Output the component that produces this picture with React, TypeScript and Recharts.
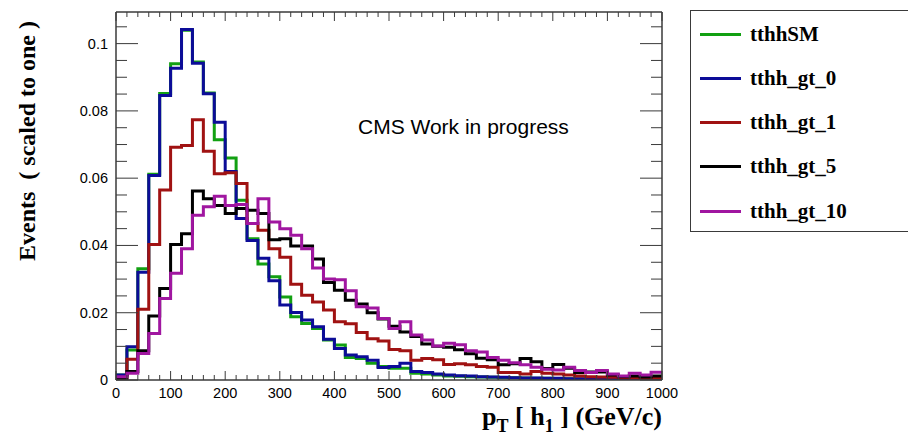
import React from 'react';
import { LineChart, Line, XAxis, YAxis, Label } from 'recharts';

// bin low edges (GeV), 20 GeV bins
const binLow = [
  0, 20, 40, 60, 80, 100, 120, 140, 160, 180,
  200, 220, 240, 260, 280, 300, 320, 340, 360, 380,
  400, 420, 440, 460, 480, 500, 520, 540, 560, 580,
  600, 620, 640, 660, 680, 700, 720, 740, 760, 780,
  800, 820, 840, 860, 880, 900, 920, 940, 960, 980,
];
const xMax = 1000;

const tthhSM = [
  0.0015, 0.0089, 0.0331, 0.0612, 0.0852, 0.094, 0.104, 0.0945, 0.0853, 0.0714,
  0.066, 0.0534, 0.042, 0.0345, 0.0307, 0.0247, 0.0188, 0.0168, 0.0153, 0.0119,
  0.0104, 0.0067, 0.0064, 0.005, 0.004, 0.0035, 0.0035, 0.002, 0.0018, 0.0015,
  0.0012, 0.0011, 0.001, 0.0009, 0.0008, 0.0007, 0.0007, 0.0006, 0.0005, 0.0005,
  0.0004, 0.0004, 0.0003, 0.0003, 0.0003, 0.0002, 0.0002, 0.0002, 0.0001, 0.0001,
];
const tthh_gt_0 = [
  0.0015, 0.0099, 0.032, 0.0608, 0.0846, 0.0927, 0.1042, 0.0942, 0.0851, 0.0766,
  0.062, 0.048, 0.0415, 0.0362, 0.0295, 0.0223, 0.0201, 0.0178, 0.0158, 0.0121,
  0.0094, 0.0074, 0.0069, 0.0059, 0.0037, 0.004, 0.005, 0.0025, 0.0022, 0.0018,
  0.0015, 0.0013, 0.0012, 0.001, 0.0009, 0.0008, 0.0007, 0.0006, 0.0006, 0.0005,
  0.0005, 0.0004, 0.0004, 0.0003, 0.0003, 0.0002, 0.0002, 0.0002, 0.0001, 0.0001,
];
const tthh_gt_1 = [
  0.0005, 0.0062, 0.021, 0.0403, 0.0565, 0.0692, 0.0697, 0.0774, 0.068, 0.0613,
  0.0616, 0.0584, 0.0465, 0.0445, 0.039, 0.0365, 0.0285, 0.0252, 0.0232, 0.0208,
  0.0173, 0.0167, 0.0141, 0.0123, 0.0116, 0.0091, 0.0087, 0.0059, 0.0064, 0.006,
  0.0046, 0.0048, 0.0045, 0.004, 0.0038, 0.0022, 0.0022, 0.0018, 0.0025, 0.002,
  0.0018, 0.0015, 0.0012, 0.001, 0.0009, 0.0008, 0.0007, 0.0006, 0.0005, 0.0006,
];
const tthh_gt_5 = [
  0.0005, 0.0025, 0.0087, 0.019, 0.0272, 0.0403, 0.0435, 0.0562, 0.0539, 0.0519,
  0.0495, 0.051, 0.0505, 0.0495, 0.0417, 0.042, 0.0398, 0.0398, 0.036, 0.029,
  0.0267, 0.0237, 0.0226, 0.02, 0.0181, 0.016, 0.0143, 0.0129, 0.0107, 0.01,
  0.0097, 0.009, 0.0078, 0.0065, 0.006, 0.0045, 0.0048, 0.0064, 0.0054, 0.0034,
  0.0046, 0.0035, 0.0022, 0.0024, 0.0024, 0.0015, 0.001, 0.0012, 0.0009, 0.0012,
];
const tthh_gt_10 = [
  0.001, 0.002, 0.0079, 0.0138, 0.0242, 0.0317, 0.039, 0.049, 0.0515, 0.0546,
  0.0519, 0.0522, 0.0465, 0.0539, 0.047, 0.045, 0.043, 0.039, 0.0333, 0.03,
  0.0298, 0.0265, 0.0218, 0.0214, 0.0183, 0.0153, 0.0173, 0.0134, 0.0119, 0.0101,
  0.0109, 0.0105, 0.0087, 0.0083, 0.0067, 0.0059, 0.0051, 0.0045, 0.0038, 0.0032,
  0.003, 0.0038, 0.0028, 0.0022, 0.0028, 0.0018, 0.0012, 0.002, 0.0015, 0.0023,
];

const seriesNames = ['tthhSM', 'tthh_gt_0', 'tthh_gt_1', 'tthh_gt_5', 'tthh_gt_10'];
const seriesValues = [tthhSM, tthh_gt_0, tthh_gt_1, tthh_gt_5, tthh_gt_10];
const seriesColors = ['#12a012', '#0c0c98', '#a01212', '#000000', '#a016a0'];

const xTicks = [
  0, 20, 40, 60, 80, 100, 120, 140, 160, 180, 200, 220, 240, 260, 280, 300, 320, 340, 360, 380,
  400, 420, 440, 460, 480, 500, 520, 540, 560, 580, 600, 620, 640, 660, 680, 700, 720, 740, 760, 780,
  800, 820, 840, 860, 880, 900, 920, 940, 960, 980, 1000,
];
const xLabels = [0, 100, 200, 300, 400, 500, 600, 700, 800, 900, 1000];
const yTicks = [
  0, 0.005, 0.01, 0.015, 0.02, 0.025, 0.03, 0.035, 0.04, 0.045, 0.05,
  0.055, 0.06, 0.065, 0.07, 0.075, 0.08, 0.085, 0.09, 0.095, 0.1, 0.105,
];
const yLabelValues = [0, 0.02, 0.04, 0.06, 0.08, 0.1];
const yLabelTexts = ['0', '0.02', '0.04', '0.06', '0.08', '0.1'];
const yMax = 0.1094;

// one row per bin edge; the last edge repeats the last bin so the step reaches 1000
const data = [...binLow, xMax].map((x, i) => {
  const row: Record<string, number> = { x };
  seriesNames.forEach((name, s) => {
    const vals = seriesValues[s];
    row[name] = vals[Math.min(i, vals.length - 1)];
  });
  return row;
});

const axisColor = '#3a3a3a';
const sans = '"Liberation Sans", Arial, Helvetica, sans-serif';
const serif = '"Liberation Serif", "Times New Roman", serif';

const isXMajor = (v: number) => xLabels.includes(v);
const yLabelIndex = (v: number) => yLabelValues.findIndex((l) => Math.abs(l - v) < 1e-9);

const BottomTick = (props: any) => {
  const { x, y, payload } = props;
  const major = isXMajor(payload.value);
  return (
    <g>
      <line x1={x} x2={x} y1={y} y2={y - (major ? 9 : 5)} stroke={axisColor} strokeWidth={1} />
      {major && (
        <text x={x} y={y + 18} textAnchor="middle" fontSize={14.5} fontFamily={sans} fill="#000">
          {payload.value}
        </text>
      )}
    </g>
  );
};

const TopTick = (props: any) => {
  const { x, y, payload } = props;
  const major = isXMajor(payload.value);
  return <line x1={x} x2={x} y1={y} y2={y + (major ? 9 : 5)} stroke={axisColor} strokeWidth={1} />;
};

const LeftTick = (props: any) => {
  const { x, y, payload } = props;
  const idx = yLabelIndex(payload.value);
  return (
    <g>
      <line x1={x} x2={x + (idx >= 0 ? 22 : 11)} y1={y} y2={y} stroke={axisColor} strokeWidth={1} />
      {idx >= 0 && (
        <text x={x - 8} y={y + 5} textAnchor="end" fontSize={14.5} fontFamily={sans} fill="#000">
          {yLabelTexts[idx]}
        </text>
      )}
    </g>
  );
};

const RightTick = (props: any) => {
  const { x, y, payload } = props;
  const idx = yLabelIndex(payload.value);
  return <line x1={x} x2={x - (idx >= 0 ? 22 : 11)} y1={y} y2={y} stroke={axisColor} strokeWidth={1} />;
};

const XTitle = (props: any) => {
  const { viewBox } = props;
  const right = viewBox.x + viewBox.width;
  return (
    <text x={right} y={viewBox.y + 45} textAnchor="end" fontFamily={serif} fontWeight="bold" fontSize={26} fill="#000">
      p<tspan fontSize={18} dy={7}>T</tspan>
      <tspan dy={-7}> [ h</tspan>
      <tspan fontSize={18} dy={7}>1</tspan>
      <tspan dy={-7}> ] (GeV/c)</tspan>
    </text>
  );
};

const YTitle = (props: any) => {
  const { viewBox } = props;
  const cy = 141;
  const cx = viewBox.x - 41;
  return (
    <text
      x={cx}
      y={cy}
      transform={`rotate(-90 ${cx} ${cy})`}
      textAnchor="middle"
      fontFamily={serif}
      fontWeight="bold"
      fontSize={24}
      fill="#000"
      xmlSpace="preserve"
    >
      Events  ( scaled to one )
    </text>
  );
};

const HistLegend = () => (
  <div
    style={{
      position: 'absolute',
      left: 690,
      top: 10,
      width: 240,
      height: 222,
      border: `1.5px solid ${axisColor}`,
      background: '#fff',
      boxSizing: 'border-box',
    }}
  >
    {seriesNames.map((name, i) => (
      <div
        key={name}
        style={{ position: 'absolute', left: 9, top: 11 + i * 44.3, height: 24, display: 'flex', alignItems: 'center' }}
      >
        <div style={{ width: 41, height: 3, background: seriesColors[i] }} />
        <span style={{ marginLeft: 9, fontFamily: serif, fontWeight: 'bold', fontSize: 21, color: '#000' }}>{name}</span>
      </div>
    ))}
  </div>
);

export default function App() {
  return (
    <div style={{ position: 'absolute', left: 0, top: 0, width: 908, height: 437, background: '#fff', overflow: 'hidden' }}>
      <LineChart width={908} height={437} data={data} margin={{ top: 11, right: 245, bottom: 27, left: 76 }}>
        <XAxis
          dataKey="x"
          type="number"
          domain={[0, xMax]}
          ticks={xTicks}
          interval={0}
          tick={BottomTick}
          tickLine={false}
          tickSize={0}
          tickMargin={0}
          height={30}
          axisLine={{ stroke: axisColor, strokeWidth: 1.5 }}
          allowDataOverflow
        >
          <Label content={XTitle} />
        </XAxis>
        <XAxis
          xAxisId="top"
          orientation="top"
          dataKey="x"
          type="number"
          domain={[0, xMax]}
          ticks={xTicks}
          interval={0}
          tick={TopTick}
          tickLine={false}
          tickSize={0}
          tickMargin={0}
          height={1}
          axisLine={{ stroke: axisColor, strokeWidth: 1.5 }}
          allowDataOverflow
        />
        <YAxis
          type="number"
          domain={[0, yMax]}
          ticks={yTicks}
          interval={0}
          tick={LeftTick}
          tickLine={false}
          tickSize={0}
          tickMargin={0}
          width={40}
          axisLine={{ stroke: axisColor, strokeWidth: 1.5 }}
          allowDataOverflow
        >
          <Label content={YTitle} />
        </YAxis>
        <YAxis
          yAxisId="right"
          orientation="right"
          type="number"
          domain={[0, yMax]}
          ticks={yTicks}
          interval={0}
          tick={RightTick}
          tickLine={false}
          tickSize={0}
          tickMargin={0}
          width={1}
          axisLine={{ stroke: axisColor, strokeWidth: 1.5 }}
          allowDataOverflow
        />
        {seriesNames.map((name, i) => (
          <Line
            key={name}
            type="stepAfter"
            dataKey={name}
            stroke={seriesColors[i]}
            strokeWidth={3}
            dot={false}
            activeDot={false}
            isAnimationActive={false}
          />
        ))}
      </LineChart>
      <div
        style={{
          position: 'absolute',
          left: 358,
          top: 115,
          fontFamily: sans,
          fontSize: 21,
          color: '#000',
          whiteSpace: 'nowrap',
        }}
      >
        CMS Work in progress
      </div>
      <HistLegend />
    </div>
  );
}
